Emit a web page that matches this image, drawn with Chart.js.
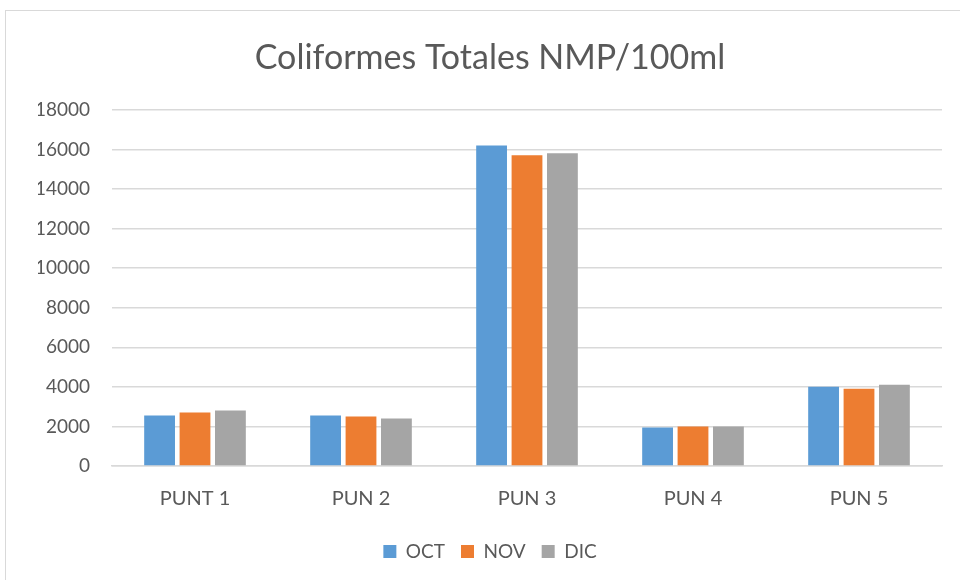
<!DOCTYPE html>
<html>
<head>
<meta charset="utf-8">
<script src="https://cdn.jsdelivr.net/npm/chart.js@4"></script>
<style>
  html, body { margin: 0; padding: 0; width: 960px; height: 580px; overflow: hidden; background: #fff; }
  #frame { position: absolute; left: 5px; top: 10px; width: 1000px; height: 620px; border: 1px solid #d9d9d9; }
  #wrap { position: absolute; left: 0; top: 0; width: 960px; height: 580px; }
</style>
</head>
<body>
<div id="frame"></div>
<div id="wrap"><canvas id="chart"></canvas></div>
<script>
const puntos = ['PUNT 1', 'PUN 2', 'PUN 3', 'PUN 4', 'PUN 5'];
const octubre = [2550, 2550, 16200, 1950, 4000];
const noviembre = [2700, 2500, 15700, 2000, 3900];
const diciembre = [2800, 2400, 15800, 2000, 4100];
const yTicks = [0, 2000, 4000, 6000, 8000, 10000, 12000, 14000, 16000, 18000];

const textColor = '#595959';
const fontFamily = 'Lato, "Open Sans", sans-serif';

const ctx = document.getElementById('chart').getContext('2d');
new Chart(ctx, {
    type: 'bar',
    data: {
        labels: puntos,
        datasets: [
            { label: 'OCT', data: octubre, backgroundColor: '#5B9BD5' },
            { label: 'NOV', data: noviembre, backgroundColor: '#ED7D31' },
            { label: 'DIC', data: diciembre, backgroundColor: '#A5A5A5' }
        ]
    },
    options: {
        responsive: true,
        maintainAspectRatio: false,
        animation: false,
        categoryPercentage: 0.64,
        barPercentage: 0.87,
        layout: { padding: { left: 38, right: 18, top: 0, bottom: 9 } },
        plugins: {
            title: {
                display: true,
                text: 'Coliformes Totales NMP/100ml',
                color: textColor,
                font: { family: fontFamily, size: 34, weight: 'normal' },
                padding: { top: 38, bottom: 31 }
            },
            legend: {
                position: 'bottom',
                labels: {
                    color: textColor,
                    font: { family: fontFamily, size: 19 },
                    boxWidth: 13,
                    boxHeight: 13,
                    padding: 16
                }
            },
            tooltip: { enabled: false }
        },
        scales: {
            x: {
                grid: { display: false, drawTicks: false },
                border: { color: '#d9d9d9', width: 1.5 },
                afterFit: (scale) => { scale.height -= 6; },
                ticks: {
                    color: textColor,
                    font: { family: fontFamily, size: 20 },
                    padding: 21
                }
            },
            y: {
                min: 0,
                max: 18000,
                afterBuildTicks: (scale) => {
                    scale.ticks = yTicks.map(v => ({ value: v }));
                },
                afterFit: (scale) => { scale.width = 74; },
                grid: { color: '#d9d9d9', lineWidth: 1.5, drawTicks: false },
                border: { display: false },
                ticks: {
                    color: textColor,
                    font: { family: fontFamily, size: 19 },
                    padding: 22,
                    callback: (value) => String(value)
                }
            }
        }
    }
});
</script>
</body>
</html>
